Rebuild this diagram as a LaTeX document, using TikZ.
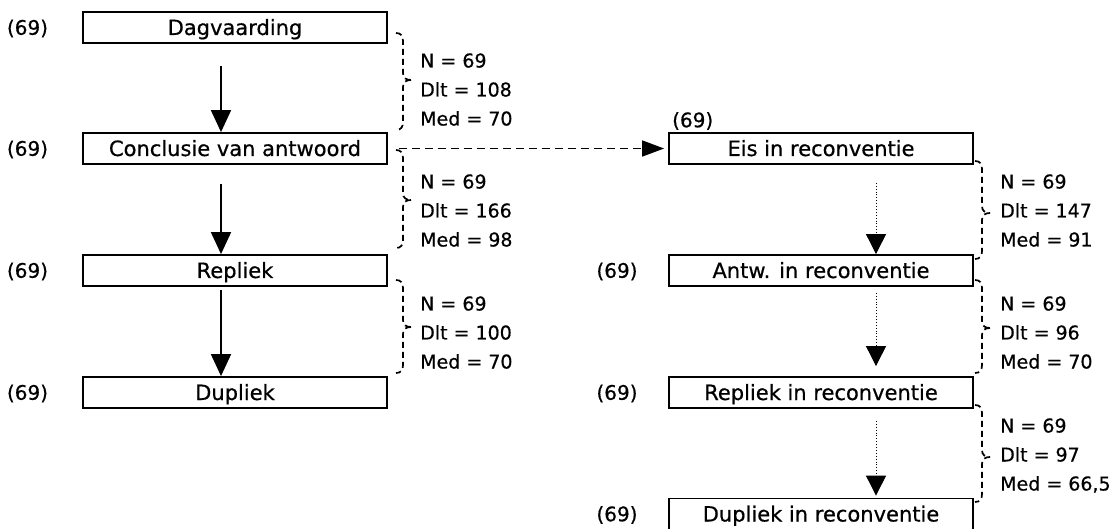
\documentclass[tikz,border=0pt]{standalone}
\usepackage{fontspec}
\setmainfont[FakeBold=0.6]{DejaVu Sans}
\usetikzlibrary{arrows.meta}
\newcommand\mybrc[4]{%
  \draw[brc] (#1-7,#2) .. controls (#1-2,#2) and (#1,#2+3) .. (#1,#2+8) -- (#1,#3-7) .. controls (#1,#3-2) and (#1+3,#3) .. (#1+8,#3);
  \draw[brc] (#1+8,#3) .. controls (#1+3,#3) and (#1,#3+2) .. (#1,#3+7) -- (#1,#4-8) .. controls (#1,#4-3) and (#1-2,#4) .. (#1-7,#4);}
\begin{document}
\begin{tikzpicture}[x=1pt,y=-1pt,
  box/.style={draw,line width=1.8pt,minimum width=304pt,minimum height=31pt,inner sep=0pt,
    font=\fontsize{21}{24}\selectfont,text height=16pt,text depth=1pt},
  cnt/.style={inner sep=0pt,font=\fontsize{20}{24}\selectfont,text height=14.5pt,text depth=0pt},
  ann/.style={anchor=west,inner sep=0pt,font=\fontsize{19}{22}\selectfont,text height=14pt,text depth=0pt},
  arr/.style={line width=1.7pt,-{Triangle[width=20pt,length=22pt]}},
  dotarr/.style={line width=0.9pt,dotted,-{Triangle[width=20pt,length=20pt]}},
  dasharr/.style={line width=1.7pt,dash pattern=on 8pt off 5pt,-{Triangle[width=16pt,length=22pt]}},
  brc/.style={line width=1.7pt,dash pattern=on 6pt off 4pt}]
\useasboundingbox (0,0) rectangle (1114,529);

% left column
\node[box] (dag) at (235,27.5) {Dagvaarding};
\node[box] (con) at (235,148.5) {Conclusie van antwoord};
\node[box] (rep) at (235,270.5) {Repliek};
\node[box] (dup) at (235,392.5) {Dupliek};
\node[cnt] (c1) at (27.5,27.5) {(69)};
\node[cnt] (c2) at (27.5,148.5) {(69)};
\node[cnt] (c3) at (27.5,270.5) {(69)};
\node[cnt] (c4) at (27.5,392.5) {(69)};

% right column
\node[box] (eis) at (821,148.5) {Eis in reconventie};
\node[box] (antw) at (821,270.5) {Antw. in reconventie};
\node[box] (reprec) at (821,392.5) {Repliek in reconventie};
\node[box] (duprec) at (821,514) {Dupliek in reconventie};
\node[cnt,anchor=west] (c5) at (672,120) {(69)};
\node[cnt] (c6) at (617,270.5) {(69)};
\node[cnt] (c7) at (617,392.5) {(69)};
\node[cnt] (c8) at (617,514) {(69)};

% arrows
\draw[arr] ([xshift=-14pt,yshift=-22pt]dag.south) -- ([xshift=-14pt]con.north);
\draw[arr] ([xshift=-14pt,yshift=-19pt]con.south) -- ([xshift=-14pt]rep.north);
\draw[arr] ([xshift=-14pt,yshift=-3pt]rep.south) -- ([xshift=-14pt]dup.north);
\draw[dotarr] ([xshift=55pt,yshift=-18pt]eis.south) -- ([xshift=55pt]antw.north);
\draw[dotarr] ([xshift=55pt,yshift=-6pt]antw.south) -- ([xshift=55pt,yshift=10pt]reprec.north);
\draw[dotarr] ([xshift=55pt,yshift=-12pt]reprec.south) -- ([xshift=55pt,yshift=2pt]duprec.north);
\draw[dasharr] ([xshift=11pt]con.east) -- ([xshift=-4pt]eis.west);

% braces left
\mybrc{403}{33}{80}{130}
\mybrc{403}{150}{200}{248}
\mybrc{403}{280}{327}{373}
% braces right
\mybrc{982}{161}{213}{259}
\mybrc{982}{280}{328}{373}
\mybrc{982}{405}{457}{502}

% annotations left
\node[ann] (a1n) at (420,60.5) {N = 69};
\node[ann] (a1d) at (420,89.5) {Dlt = 108};
\node[ann] (a1m) at (420,118.5) {Med = 70};
\node[ann] (a2n) at (420,181.5) {N = 69};
\node[ann] (a2d) at (420,210.5) {Dlt = 166};
\node[ann] (a2m) at (420,239.5) {Med = 98};
\node[ann] (a3n) at (420,303.5) {N = 69};
\node[ann] (a3d) at (420,332.5) {Dlt = 100};
\node[ann] (a3m) at (420,361.5) {Med = 70};
% annotations right
\node[ann] (b1n) at (1000,181.5) {N = 69};
\node[ann] (b1d) at (1000,210.5) {Dlt = 147};
\node[ann] (b1m) at (1000,239.5) {Med = 91};
\node[ann] (b2n) at (1000,303.5) {N = 69};
\node[ann] (b2d) at (1000,332.5) {Dlt = 96};
\node[ann] (b2m) at (1000,361.5) {Med = 70};
\node[ann] (b3n) at (1000,425.5) {N = 69};
\node[ann] (b3d) at (1000,454.5) {Dlt = 97};
\node[ann] (b3m) at (1000,483.5) {Med = 66,5};
\end{tikzpicture}
\end{document}
